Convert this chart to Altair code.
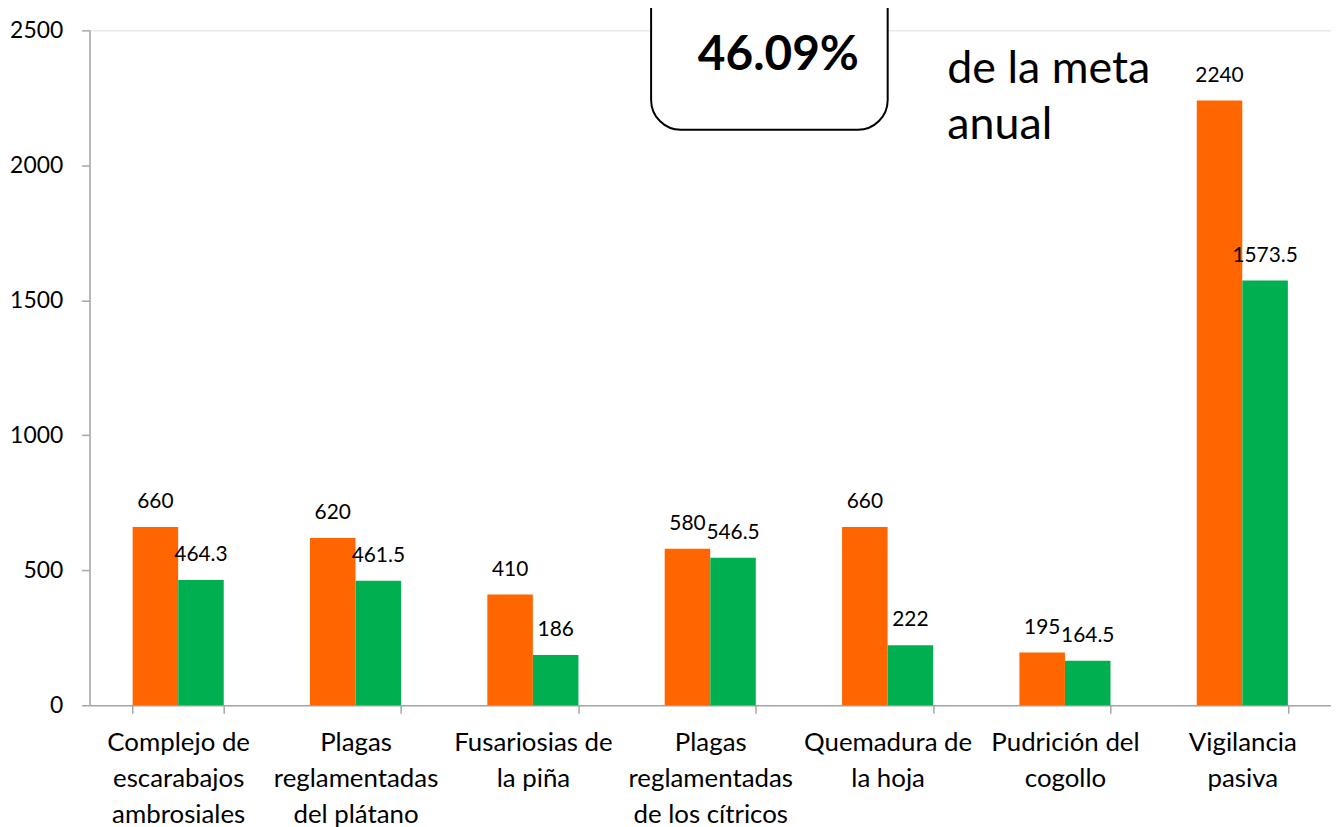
import altair as alt
import pandas as pd

categories = [
    "Complejo de\nescarabajos\nambrosiales",
    "Plagas\nreglamentadas\ndel plátano",
    "Fusariosias de\nla piña",
    "Plagas\nreglamentadas\nde los cítricos",
    "Quemadura de\nla hoja",
    "Pudrición del\ncogollo",
    "Vigilancia\npasiva",
]
meta = [660, 620, 410, 580, 660, 195, 2240]
avance = [464.3, 461.5, 186, 546.5, 222, 164.5, 1573.5]
series = ["Meta", "Avance"]
colors = ["#FF6600", "#00B050"]
y_ticks = [0, 500, 1000, 1500, 2000, 2500]
box_text = "46.09%"
side_text = ["de la meta", "anual"]

rows = []
for c, m, a in zip(categories, meta, avance):
    rows.append({"cat": c, "serie": series[0], "valor": m, "label": f"{m:g}"})
    rows.append({"cat": c, "serie": series[1], "valor": a, "label": f"{a:g}"})
df = pd.DataFrame(rows)

FONT = "Lato"
AXIS_GRAY = "#A6A6A6"

x = alt.X(
    "cat:N",
    sort=categories,
    title=None,
    scale=alt.Scale(paddingInner=0.486, paddingOuter=0.243),
    axis=alt.Axis(
        labelExpr="split(datum.label, '\\n')",
        labelAngle=0,
        labelFontSize=26,
        labelFont=FONT,
        labelColor="#000000",
        labelLineHeight=36,
        labelPadding=17,
        labelLimit=300,
        tickBand="extent",
        tickSize=8,
        tickColor=AXIS_GRAY,
        domainColor=AXIS_GRAY,
        domainWidth=1.5,
        tickWidth=1.5,
    ),
)
xoff = alt.XOffset("serie:N", sort=series, scale=alt.Scale(paddingInner=0, paddingOuter=0))
y = alt.Y(
    "valor:Q",
    title=None,
    scale=alt.Scale(domain=[0, 2500], nice=False),
    axis=alt.Axis(
        values=y_ticks,
        format="d",
        grid=False,
        labelFontSize=23,
        labelFont=FONT,
        labelColor="#000000",
        labelPadding=19,
        tickSize=8,
        tickColor=AXIS_GRAY,
        domainColor=AXIS_GRAY,
        domainWidth=1.5,
        tickWidth=1.5,
    ),
)

bars = alt.Chart(df).mark_bar(size=45.8).encode(
    x=x,
    xOffset=xoff,
    y=y,
    color=alt.Color("serie:N", sort=series, scale=alt.Scale(domain=series, range=colors), legend=None),
)

labels = alt.Chart(df).mark_text(
    font=FONT, fontSize=21, color="#000000", baseline="middle", dy=-25
).encode(x=x, xOffset=xoff, y=y, text="label:N")

box_df = pd.DataFrame({"t": [box_text]})
box = alt.Chart(box_df).mark_rect(
    fill="white", stroke="black", strokeWidth=2, cornerRadius=30
).encode(x=alt.value(565), x2=alt.value(803), y=alt.value(-60), y2=alt.value(100))
box_label = alt.Chart(box_df).mark_text(
    font=FONT, fontSize=48, fontWeight="bold", color="black", baseline="middle", align="center"
).encode(x=alt.value(693), y=alt.value(26), text="t:N")

side_df = pd.DataFrame({"t": [side_text]})
side = alt.Chart(side_df).mark_text(
    font=FONT, fontSize=45, color="black", baseline="middle", align="left", lineHeight=56
).encode(x=alt.value(863), y=alt.value(39), text="t")

chart = alt.layer(bars, labels, box, box_label, side).properties(
    width=1249,
    height=679,
    autosize=alt.AutoSizeParams(type="none"),
    padding={"left": 82, "top": 20, "right": 0, "bottom": 120},
).configure_view(stroke=None).configure(background="white")

chart.save("out.html", embed_options={"renderer": "svg", "actions": False})
